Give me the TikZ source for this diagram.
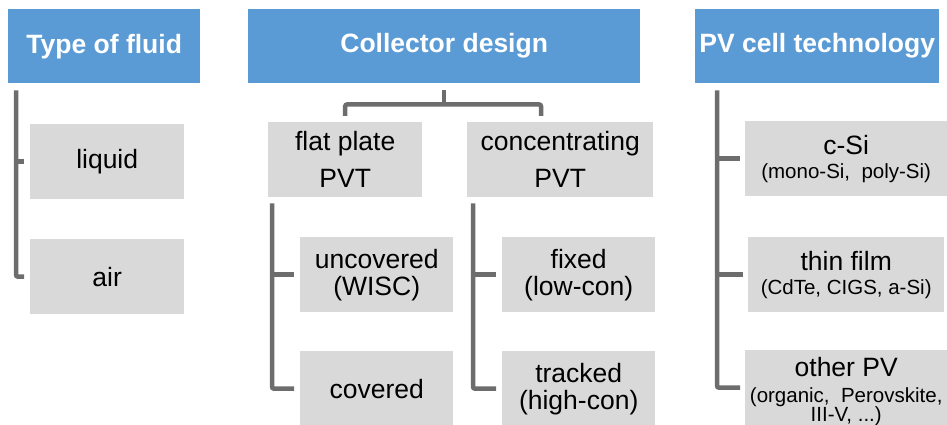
\documentclass[tikz,border=0pt]{standalone}
\usepackage{fontspec}
\setmainfont{Liberation Sans}
\usetikzlibrary{calc,positioning}
\definecolor{headblue}{RGB}{91,155,213}
\definecolor{boxgray}{RGB}{217,217,217}
\definecolor{linegray}{RGB}{109,109,109}
\newcommand{\subtxt}[1]{{\fontsize{20.5}{21}\selectfont #1}}
\newcommand{\lowline}[1]{\raisebox{-4pt}[\height][\depth]{#1}}

\begin{document}
\begin{tikzpicture}[x=1pt,y=-1pt,
  head/.style={fill=headblue, text=white, font=\fontsize{26.5}{30}\selectfont\bfseries,
    anchor=north west, minimum height=74pt, inner sep=0pt},
  leaf/.style={fill=boxgray, font=\fontsize{26.5}{27}\selectfont, anchor=north west,
    minimum height=75pt, inner sep=0pt, align=center},
  conn/.style={draw=linegray, line width=4.5pt, rounded corners=2pt}]
  \useasboundingbox (0,0) rectangle (947,425);

  \node[head, minimum width=192pt] (fluid) at (8,9) {Type of fluid};
  \node[head, minimum width=392pt] (design) at (248,9) {Collector design};
  \node[head, minimum width=244pt] (pv) at (695,9) {PV cell technology};

  \node[leaf, minimum width=154pt] (liquid) at (30,124) {liquid};
  \node[leaf, minimum width=154pt] (air) at (30,239) {air};

  \node[leaf, minimum width=154pt] (flat) at (268,122) {flat plate\\[10pt]PVT};
  \node[leaf, minimum width=186pt] (conc) at (467,122) {concentrating\\[10pt]PVT};
  \node[leaf, minimum width=153pt] (uncov) at (300,237) {uncovered\\(WISC)};
  \node[leaf, minimum width=153pt] (cov) at (300,351) {covered};
  \node[leaf, minimum width=153pt] (fixed) at (502,237) {fixed\\(low-con)};
  \node[leaf, minimum width=153pt] (tracked) at (502,351) {tracked\\(high-con)};

  \node[leaf, minimum width=202pt] (csi) at (745,121) {c-Si\\[-3pt]\subtxt{(mono-Si,\ \ poly-Si)}};
  \node[leaf, minimum width=196pt] (thin) at (748,237) {thin film\\[-3pt]\subtxt{(CdTe, CIGS, a-Si)}};
  \node[leaf, minimum width=202pt] (other) at (745,350) {\lowline{other PV}\\[-1pt]
    \lowline{\subtxt{(organic,\ \ Perovskite,}}\\[-8pt]\lowline{\subtxt{III-V, ...)}}};

  \draw[conn] ($(fluid.south west)+(8,7)$) |- ($(air.west)+(-6,0)$);
  \draw[conn] ($(liquid.west)+(-14,0)$) -- ($(liquid.west)+(-6,0)$);

  \draw[conn] ($(design.south)+(0,7)$) -- ($(design.south)+(0,21)$);
  \draw[conn] ($(flat.north)+(0,-6)$) |- ($(design.south)+(0,21)$) -| ($(conc.north west)+(74,-6)$);

  \draw[conn] ($(flat.south west)+(4,6)$) |- ($(cov.west)+(-6,0)$);
  \draw[conn] ($(uncov.west)+(-28,0)$) -- ($(uncov.west)+(-6,0)$);
  \draw[conn] ($(conc.south west)+(6,6)$) |- ($(tracked.west)+(-6,0)$);
  \draw[conn] ($(fixed.west)+(-29,0)$) -- ($(fixed.west)+(-6,0)$);

  \draw[conn] ($(pv.south west)+(22,7)$) |- ($(other.west)+(-5,0)$);
  \draw[conn] ($(csi.west)+(-28,0)$) -- ($(csi.west)+(-5,0)$);
  \draw[conn] ($(thin.west)+(-31,0)$) -- ($(thin.west)+(-5,0)$);
\end{tikzpicture}
\end{document}
